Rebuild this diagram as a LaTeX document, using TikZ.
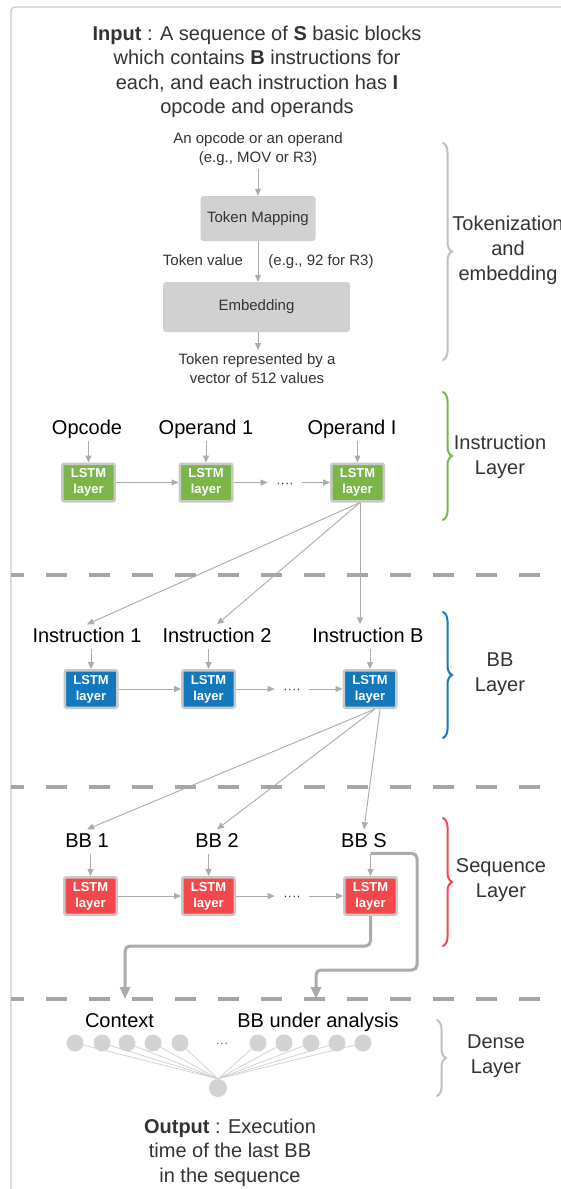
\documentclass[tikz,border=0pt]{standalone}
\usepackage{fontspec}
\setmainfont{Liberation Sans}
\usetikzlibrary{arrows.meta,decorations.pathreplacing,calc}
\definecolor{txt}{HTML}{333333}
\definecolor{arrc}{HTML}{ABABAB}
\definecolor{dashc}{HTML}{A6A6A6}
\definecolor{boxg}{HTML}{D1D1D1}
\definecolor{framec}{HTML}{C8C8C8}
\definecolor{lstmgreen}{HTML}{7AB648}
\definecolor{lstmblue}{HTML}{1478BD}
\definecolor{lstmred}{HTML}{F3484B}
\definecolor{lstmborder}{HTML}{C9C9C9}
\definecolor{dotc}{HTML}{D3D3D3}
\definecolor{bracegray}{HTML}{C0C0C0}
\definecolor{braceblue}{HTML}{1778BF}
\definecolor{bracered}{HTML}{EF4B4B}
\tikzset{
  bigtxt/.style={font=\fontsize{20}{24.5}\selectfont, text=txt, align=center, inner sep=0pt},
  smalltxt/.style={font=\fontsize{15}{19.5}\selectfont, text=txt, align=center, inner sep=3pt},
  lblnode/.style={font=\fontsize{20}{24}\selectfont, text=black, text height=14.5pt, text depth=4.2pt, inner sep=3pt, anchor=base},
  lstm/.style={fill=#1, draw=lstmborder, line width=2.5pt, rounded corners=2pt, minimum width=52.5pt, minimum height=37.5pt, inner sep=0pt, font=\fontsize{13}{16}\selectfont\bfseries, text=white, align=center},
  tokbox/.style={fill=boxg, rounded corners=3pt, inner sep=0pt, font=\fontsize{15}{18}\selectfont, text=txt, text height=10.8pt, text depth=3.2pt},
  tarrow/.style={draw=arrc, line width=1pt, -{Triangle[length=7pt,width=6pt]}},
  fanarrow/.style={draw=arrc, line width=0.9pt, -{Triangle[length=7pt,width=6pt]}},
  bigarrow/.style={draw=arrc, line width=3pt, rounded corners=5pt, -{Triangle[length=12pt,width=10pt]}},
  sepline/.style={draw=dashc, line width=4pt, dash pattern=on 21pt off 22pt, dash phase=8pt},
  brc/.style={draw=#1, decorate, decoration={brace, amplitude=9pt}, line width=2pt, line cap=round},
  sidetxt/.style={font=\fontsize{20}{25}\selectfont, text=txt, align=center, inner sep=0pt},
  dotsn/.style={font=\fontsize{13}{13}\selectfont, text=txt, inner xsep=8.5pt, inner ysep=0pt, anchor=base},
  neuron/.style={circle, fill=dotc, minimum size=17pt, inner sep=0pt},
  conn/.style={draw=dotc, line width=0.8pt},
}
\begin{document}
\begin{tikzpicture}[x=1pt,y=-1pt]
\useasboundingbox (0,0) rectangle (560,1189);
\fill[white] (0,0) rectangle (560,1189);
% frame
\draw[framec, line width=1.2pt, rounded corners=4pt] (11,1200) -- (11,7) -- (580,7);

% input text
\node[bigtxt] (input) at (257,72) {\textbf{Input} : A sequence of \textbf{S} basic blocks\\which contains \textbf{B} instructions for\\each, and each instruction has \textbf{I}\\opcode and operands};

% tokenization
\node[smalltxt] (tin) at (258,149) {An opcode or an operand\\(e.g., MOV or R3)};
\node[tokbox, minimum width=115pt, minimum height=45pt] (tm) at (258,218.5) {Token Mapping};
\node[tokbox, minimum width=187pt, minimum height=50pt] (emb) at (256.5,307) {Embedding};
\node[smalltxt, anchor=base] (tval) at (203,265.5) {Token value};
\node[smalltxt, anchor=base] (teg) at (321,265.5) {(e.g., 92 for R3)};
\node[smalltxt] (tout) at (257,368.5) {Token represented by a\\vector of 512 values};
\draw[tarrow] (tin.south -| tm.north) -- (tm.north);
\draw[tarrow] (tm.south) -- (tm.south |- emb.north);
\draw[tarrow] (emb.south -| tm.south) -- (tout.north -| tm.south);
\draw[brc=bracegray] (443,143) -- (443,360);
\node[sidetxt] (ltok) at (508,250) {Tokenization\\and\\embedding};

% instruction layer
\node[lblnode] (lop) at (87,434) {Opcode};
\node[lblnode] (lop1) at (206,434) {Operand 1};
\node[lblnode] (lopI) at (352,434) {Operand I};
\node[lstm=lstmgreen] (g1) at (88.5,482.5) {LSTM\\layer};
\node[lstm=lstmgreen] (g2) at (206,482.5) {LSTM\\layer};
\node[lstm=lstmgreen] (g3) at (357.5,482.5) {LSTM\\layer};
\node[dotsn] (gd) at (285,487) {····};
\draw[tarrow] (lop.south -| g1.north) -- (g1.north);
\draw[tarrow] (lop1.south -| g2.north) -- (g2.north);
\draw[tarrow] (lopI.south -| g3.north) -- (g3.north);
\draw[tarrow] (g1.east) -- (g2.west);
\draw[tarrow] (g2.east) -- (g2.east -| gd.west);
\draw[tarrow] (g3.west -| gd.east) -- (g3.west);
\draw[brc=lstmgreen] (443,392) -- (443,520);
\node[sidetxt] (linst) at (500,456.5) {Instruction\\Layer};

\draw[sepline] (11,575) -- (560,575);

% BB layer
\node[lblnode] (li1) at (87,642) {Instruction 1};
\node[lblnode] (li2) at (217,642) {Instruction 2};
\node[lblnode] (liB) at (368,642) {Instruction B};
\node[lstm=lstmblue] (b1) at (91,689) {LSTM\\layer};
\node[lstm=lstmblue] (b2) at (208.5,689) {LSTM\\layer};
\node[lstm=lstmblue] (b3) at (370,689) {LSTM\\layer};
\node[dotsn] (bd) at (292,693.5) {····};
\draw[tarrow] (li1.south -| b1.north) -- (b1.north);
\draw[tarrow] (li2.south -| b2.north) -- (b2.north);
\draw[tarrow] (liB.south -| b3.north) -- (b3.north);
\draw[tarrow] (b1.east) -- (b2.west);
\draw[tarrow] (b2.east) -- (b2.east -| bd.west);
\draw[tarrow] (b3.west -| bd.east) -- (b3.west);
\draw[brc=braceblue] (443,612) -- (443,738);
\node[sidetxt] (lbb) at (500,674.5) {BB\\Layer};

\coordinate (gOut) at ($(g3.south)+(2.5,0)$);
\draw[fanarrow] (gOut) -- (li1.north);
\draw[fanarrow] (gOut) -- (li2.north);
\draw[fanarrow] (gOut) -- (gOut |- liB.north);

\draw[sepline] (11,787) -- (560,787);

% sequence layer
\node[lblnode] (lbb1) at (87,847) {BB 1};
\node[lblnode] (lbb2) at (217,847) {BB 2};
\node[lblnode] (lbbS) at (364,847) {BB S};
\node[lstm=lstmred] (r1) at (90.5,896) {LSTM\\layer};
\node[lstm=lstmred] (r2) at (208.5,896) {LSTM\\layer};
\node[lstm=lstmred] (r3) at (370.5,896) {LSTM\\layer};
\node[dotsn] (rd) at (292,900.5) {····};
\draw[tarrow] (lbb1.south -| r1.north) -- (r1.north);
\draw[tarrow] (lbb2.south -| r2.north) -- (r2.north);
\draw[tarrow] (lbbS.south -| r3.north) -- (r3.north);
\draw[tarrow] (r1.east) -- (r2.west);
\draw[tarrow] (r2.east) -- (r2.east -| rd.west);
\draw[tarrow] (r3.west -| rd.east) -- (r3.west);
\draw[brc=bracered] (443,818) -- (443,946);
\node[sidetxt] (lseq) at (501,880.5) {Sequence\\Layer};

\coordinate (bOut) at ($(b3.south)+(5,0)$);
\coordinate (bOut2) at ($(b3.south)+(10,0)$);
\draw[fanarrow] (bOut) -- (lbb1.north);
\draw[fanarrow] (bOut) -- (lbb2.north);
\draw[fanarrow] (bOut2) -- (lbbS.north);

% thick connectors
\coordinate (ctxIn) at (125,999);
\coordinate (bbIn) at (316,999);
\coordinate (yA) at (0,946);
\coordinate (yB) at (0,970);
\coordinate (xB) at (417,0);
\coordinate (sOut) at ($(r3.north |- lbbS.south)+(0,-1)$);
\draw[bigarrow] (r3.south) -- (r3.south |- yA) -- (ctxIn |- yA) -- (ctxIn);
\draw[bigarrow] (sOut) -- (sOut -| xB) -- (xB |- yB) -- (bbIn |- yB) -- (bbIn);

\draw[sepline] (11,999) -- (560,999);

% dense layer
\node[lblnode, text=black] (lctx) at (119.5,1027) {Context};
\node[lblnode, text=black] (lbua) at (318,1027) {BB under analysis};
\node[neuron] (c1) at (75,1043) {};
\node[neuron] (c2) at (102,1043) {};
\node[neuron] (c3) at (127,1043) {};
\node[neuron] (c4) at (153,1043) {};
\node[neuron] (c5) at (180,1043) {};
\node[neuron] (c6) at (258,1043) {};
\node[neuron] (c7) at (284,1043) {};
\node[neuron] (c8) at (311,1043) {};
\node[neuron] (c9) at (337,1043) {};
\node[neuron] (c10) at (363,1043) {};
\node[dotsn, inner xsep=0pt, text=txt!80] (dd) at (222,1047.5) {···};
\node[neuron, minimum size=18pt] (out) at (218,1088) {};
\foreach \c in {c1,c2,c3,c4,c5,c6,c7,c8,c9,c10} {
  \draw[conn] (\c) -- (out.north);
}
\draw[brc=bracegray] (437,1020) -- (437,1096);
\node[sidetxt] (ldense) at (496,1056.5) {Dense\\Layer};

\node[bigtxt] (output) at (230,1152.4) {\textbf{Output} : Execution\\time of the last BB\\in the sequence};
\end{tikzpicture}
\end{document}
